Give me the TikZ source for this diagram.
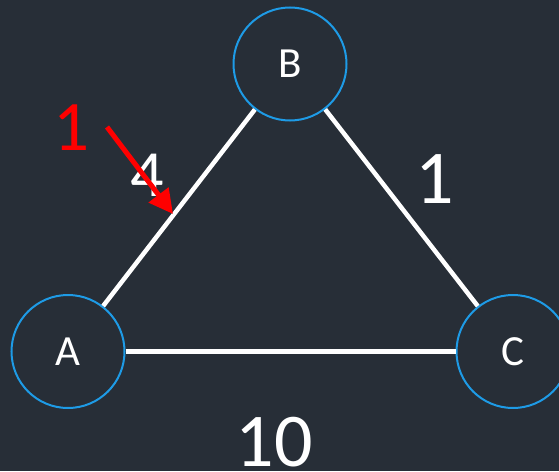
\documentclass[tikz,border=0pt]{standalone}
\usepackage{fontspec}
\setmainfont{Carlito}
\usetikzlibrary{arrows.meta}
\definecolor{bg}{RGB}{39,46,55}
\definecolor{nodeblue}{RGB}{30,155,230}
\definecolor{arrred}{RGB}{255,0,0}
\begin{document}
\begin{tikzpicture}[x=1pt,y=-1pt,
  vertex/.style={circle,draw=nodeblue,line width=2pt,minimum size=113pt,inner sep=0pt,text=white,font=\fontsize{43}{43}\selectfont},
  edge/.style={white,line width=4.5pt},
  weight/.style={text=white,inner sep=0pt,font=\fontsize{76}{76}\selectfont}]
\fill[bg] (0,0) rectangle (559,471);
\useasboundingbox (0,0) rectangle (559,471);
\node[vertex] (B) at (290,64) {B};
\node[vertex] (A) at (68,351.5) {A};
\node[vertex] (C) at (513,351.5) {C};
\draw[edge] (A) -- (B);
\draw[edge] (B) -- (C);
\draw[edge] (A) -- (C);
\node[weight,font=\fontsize{66}{66}\selectfont] (w4) at (147,175) {4};
\node[weight] (w1) at (435,179) {1};
\node[weight] (w10) at (274,442) {10};
\node[text=arrred,inner sep=0pt,font=\fontsize{71}{71}\selectfont] (r1) at (71,128) {1};
\coordinate (as) at (107,127);
\coordinate (at) at (173,214);
\draw[arrred,line width=5pt,-{Triangle[length=24pt,width=24pt]}] (as) -- (at);
\end{tikzpicture}
\end{document}
